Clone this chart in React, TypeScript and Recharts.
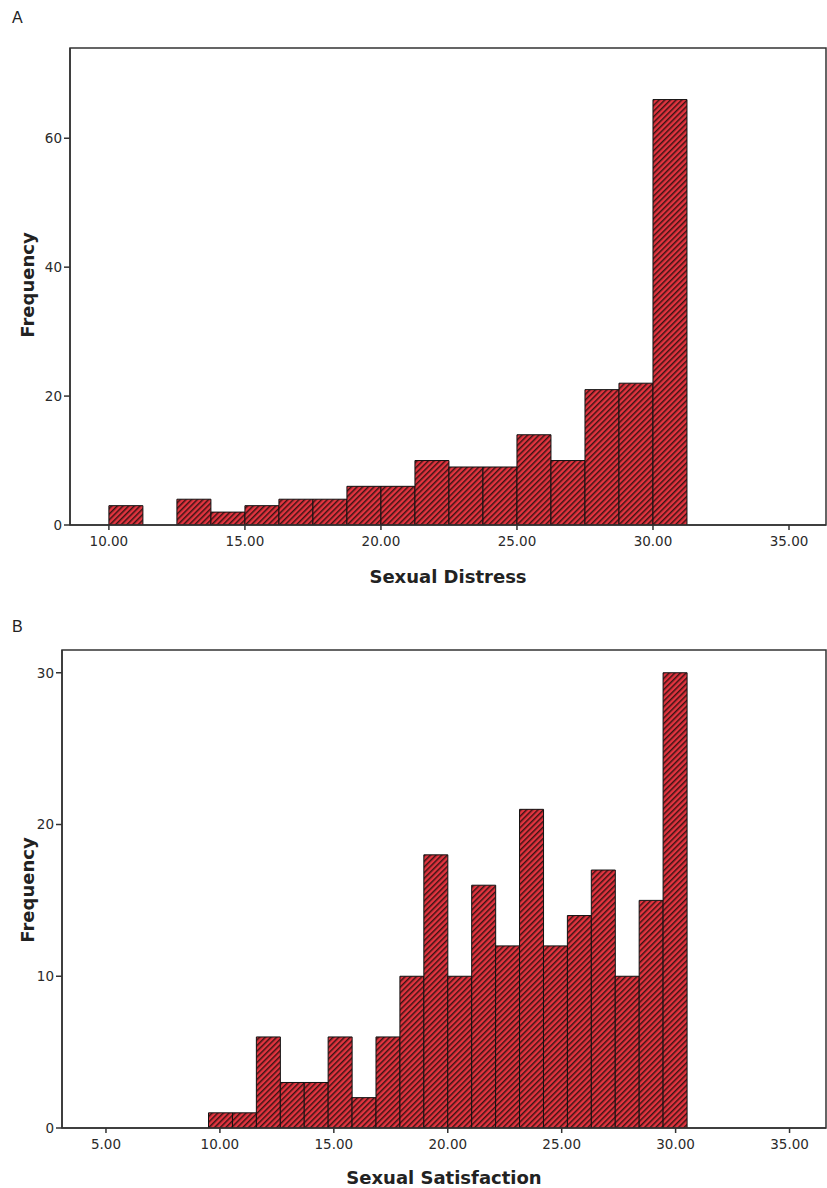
import React from 'react';
import { BarChart, Bar, XAxis, YAxis, ReferenceArea } from 'recharts';

// Panel A: Sexual Distress (bins of 1.25 starting at 10)
const distressBins = [10.625, 11.875, 13.125, 14.375, 15.625, 16.875, 18.125, 19.375, 20.625, 21.875, 23.125, 24.375, 25.625, 26.875, 28.125, 29.375, 30.625];
const distressCounts = [3, 0, 4, 2, 3, 4, 4, 6, 6, 10, 9, 9, 14, 10, 21, 22, 66];
const distressXTicks = [10, 15, 20, 25, 30, 35];
const distressYTicks = [0, 20, 40, 60];

// Panel B: Sexual Satisfaction (bins of 1.05 starting at 9.5)
const satisfactionBins = [10.025, 11.075, 12.125, 13.175, 14.225, 15.275, 16.325, 17.375, 18.425, 19.475, 20.525, 21.575, 22.625, 23.675, 24.725, 25.775, 26.825, 27.875, 28.925, 29.975];
const satisfactionCounts = [1, 1, 6, 3, 3, 6, 2, 6, 10, 18, 10, 16, 12, 21, 12, 14, 17, 10, 15, 30];
const satisfactionXTicks = [5, 10, 15, 20, 25, 30, 35];
const satisfactionYTicks = [0, 10, 20, 30];

const FONT = '"DejaVu Sans", sans-serif';
const AXIS = '#333';

interface HistProps {
  bins: number[];
  counts: number[];
  xDomain: [number, number];
  xTicks: number[];
  yDomain: [number, number];
  yTicks: number[];
  top: number;
  height: number;
  marginTop: number;
  yAxisWidth: number;
  patternId: string;
}

const Histogram: React.FC<HistProps> = ({ bins, counts, xDomain, xTicks, yDomain, yTicks, top, height, marginTop, yAxisWidth, patternId }) => {
  const data = bins.map((x, i) => ({ x, count: counts[i] }));
  return (
    <div style={{ position: 'absolute', left: 0, top }}>
      <BarChart
        width={827}
        height={height}
        data={data}
        margin={{ top: marginTop, right: 1, bottom: 0, left: 0 }}
        barCategoryGap={0}
        barGap={0}
        style={{ fontFamily: FONT }}
      >
        <defs>
          <pattern id={patternId} patternUnits="userSpaceOnUse" width={4} height={4} patternTransform="rotate(45)">
            <rect width={4} height={4} fill="#e2343f" />
            <rect width={1.5} height={4} fill="#3a1414" />
          </pattern>
        </defs>
        <XAxis
          dataKey="x"
          type="number"
          domain={xDomain}
          ticks={xTicks}
          allowDataOverflow
          height={30}
          tickSize={5}
          tickMargin={6}
          tickFormatter={(v: number) => v.toFixed(2)}
          tick={{ fill: '#2a2a2a', fontSize: 13.5 }}
          axisLine={{ stroke: AXIS, strokeWidth: 1.5 }}
          tickLine={{ stroke: AXIS, strokeWidth: 1.5 }}
        />
        <YAxis
          type="number"
          domain={yDomain}
          ticks={yTicks}
          allowDataOverflow
          width={yAxisWidth}
          tickSize={6}
          tickMargin={2}
          tick={{ fill: '#2a2a2a', fontSize: 13.5 }}
          axisLine={{ stroke: AXIS, strokeWidth: 1.5 }}
          tickLine={{ stroke: AXIS, strokeWidth: 1.5 }}
        />
        <ReferenceArea
          x1={xDomain[0]}
          x2={xDomain[1]}
          y1={yDomain[0]}
          y2={yDomain[1]}
          fill="none"
          stroke={AXIS}
          strokeWidth={1.5}
          ifOverflow="visible"
        />
        <Bar dataKey="count" fill={`url(#${patternId})`} stroke="#111" strokeWidth={1} isAnimationActive={false} />
      </BarChart>
    </div>
  );
};

const titleStyle: React.CSSProperties = {
  position: 'absolute',
  fontFamily: FONT,
  fontWeight: 'bold',
  fontSize: 18,
  color: '#222',
  whiteSpace: 'nowrap',
};

const letterStyle: React.CSSProperties = {
  position: 'absolute',
  fontFamily: '"Liberation Sans", Arial, sans-serif',
  fontSize: 16,
  color: '#222',
};

export default function App() {
  return (
    <div style={{ position: 'absolute', left: 0, top: 0, width: 827, height: 1188, background: '#fff' }}>
      <div style={{ ...letterStyle, left: 12, top: 9 }}>A</div>
      <Histogram
        bins={distressBins}
        counts={distressCounts}
        xDomain={[8.57, 36.36]}
        xTicks={distressXTicks}
        yDomain={[0, 74]}
        yTicks={distressYTicks}
        top={0}
        height={555}
        marginTop={48}
        yAxisWidth={70}
        patternId="hatchA"
      />
      <div style={{ ...titleStyle, left: 448, top: 576, transform: 'translate(-50%, -50%)' }}>Sexual Distress</div>
      <div style={{ ...titleStyle, left: 27, top: 285, transform: 'translate(-50%, -50%) rotate(-90deg)' }}>Frequency</div>

      <div style={{ ...letterStyle, left: 12, top: 618 }}>B</div>
      <Histogram
        bins={satisfactionBins}
        counts={satisfactionCounts}
        xDomain={[3.07, 36.6]}
        xTicks={satisfactionXTicks}
        yDomain={[0, 31.5]}
        yTicks={satisfactionYTicks}
        top={600}
        height={558}
        marginTop={50}
        yAxisWidth={62}
        patternId="hatchB"
      />
      <div style={{ ...titleStyle, left: 444, top: 1177, transform: 'translate(-50%, -50%)' }}>Sexual Satisfaction</div>
      <div style={{ ...titleStyle, left: 27, top: 890, transform: 'translate(-50%, -50%) rotate(-90deg)' }}>Frequency</div>
    </div>
  );
}
